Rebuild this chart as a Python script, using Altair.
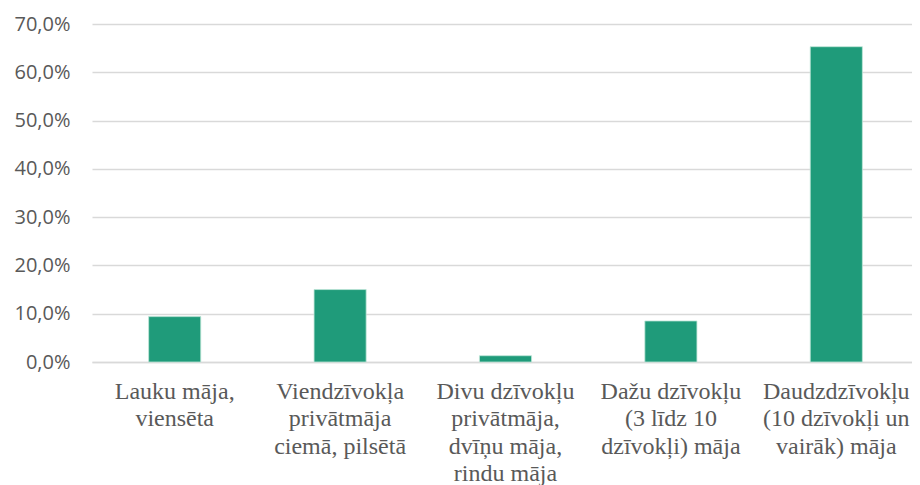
import altair as alt
import pandas as pd

categories = [
    "Lauku māja,|viensēta",
    "Viendzīvokļa|privātmāja|ciemā, pilsētā",
    "Divu dzīvokļu|privātmāja,|dvīņu māja,|rindu māja",
    "Dažu dzīvokļu|(3 līdz 10|dzīvokļi) māja",
    "Daudzdzīvokļu|(10 dzīvokļi un|vairāk) māja",
]
values = [0.094, 0.150, 0.013, 0.085, 0.653]
y_ticks = [0, 0.1, 0.2, 0.3, 0.4, 0.5, 0.6, 0.7]

df = pd.DataFrame({"cat": categories, "val": values})

chart = alt.Chart(df).mark_bar(
    color="#1f9b7a", stroke="#bfe6d8", strokeWidth=0.8
).encode(
    x=alt.X("cat:N", sort=None, title=None,
            scale=alt.Scale(paddingInner=0.685, paddingOuter=0.3425, range=[0, 827]),
            axis=alt.Axis(labelAngle=0, labelExpr="split(datum.label, '|')",
                          labelFont="Liberation Serif", labelFontSize=24,
                          labelColor="#595959", labelLineHeight=27.5,
                          labelBaseline="top", labelPadding=17,
                          ticks=False, domain=True, domainColor="#d9d9d9",
                          domainWidth=1.5, grid=False, labelLimit=300)),
    y=alt.Y("val:Q", title=None,
            scale=alt.Scale(domain=[0, 0.7], nice=False),
            axis=alt.Axis(values=y_ticks, labelExpr="replace(format(datum.value, '.1%'), '.', ',')",
                          labelFont="Open Sans", labelFontSize=20, labelColor="#595959",
                          labelPadding=22, ticks=False, domain=False,
                          gridColor="#d9d9d9", gridWidth=1.5)),
).properties(
    width=820, height=338,
    autosize=alt.AutoSizeParams(type="none"),
    padding={"left": 84, "top": 16, "right": 0, "bottom": 123},
).configure_view(stroke=None)

chart.save("out.html", embed_options={"renderer": "svg", "actions": False})
